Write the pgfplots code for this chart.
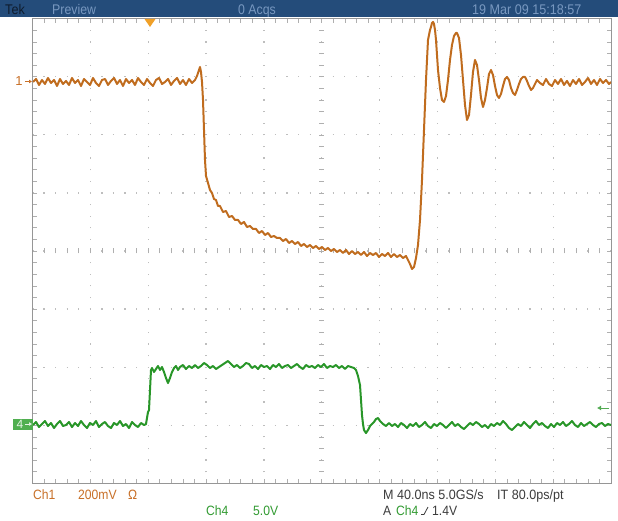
\documentclass[border=0pt]{standalone}
\usepackage{pgfplots}
\pgfplotsset{compat=1.18}
\usepackage{pgfplotstable}
\usetikzlibrary{arrows.meta}
\usepackage{fontspec}
\setmainfont{Liberation Sans}
\definecolor{hdr}{RGB}{36,76,122}
\definecolor{hdrtxt}{RGB}{120,152,192}
\definecolor{hdrdark}{RGB}{15,28,45}
\definecolor{chone}{RGB}{192,108,30}
\definecolor{chonetxt}{RGB}{200,112,40}
\definecolor{chfour}{RGB}{40,150,40}
\definecolor{chfourtxt}{RGB}{50,155,50}
\definecolor{chfourbox}{RGB}{80,175,80}
\definecolor{gridc}{RGB}{190,190,190}
\definecolor{tickc}{RGB}{175,175,175}
\definecolor{borderc}{RGB}{150,150,150}
\definecolor{trig}{RGB}{240,160,40}
\definecolor{txtdark}{RGB}{60,60,60}

% screen samples: px = column on screen, py = row on screen
\pgfplotstableread{
px py
33 82
36 79
39 85
42 80
45 84
48 78
51 83
54 80
57 86
60 79
63 84
66 81
69 85
72 78
75 83
78 80
81 86
84 79
87 82
90 85
93 78
96 83
99 86
102 80
105 79
108 85
111 81
114 78
117 84
120 80
123 86
126 79
129 83
132 80
135 85
138 78
141 82
144 85
147 79
150 83
153 86
156 80
159 78
162 84
165 82
168 79
171 85
174 81
177 78
180 84
183 80
186 85
189 79
192 83
195 80
197 76
199 70
200 67
201 72
202 82
203 100
204 130
205 160
206 176
208 183
210 190
212 193
214 199
216 200
218 206
220 206
223 212
226 211
229 217
232 216
235 220
238 220
241 224
244 222
247 227
250 226
253 229
256 229
259 233
262 231
265 235
268 233
271 237
274 236
277 238
280 238
283 241
286 239
289 243
292 241
295 244
298 242
301 246
304 244
307 247
310 245
313 248
316 246
319 249
322 247
325 250
328 248
331 251
334 249
337 252
340 250
343 253
346 250
349 254
352 251
355 254
358 252
361 255
364 252
367 256
370 253
373 255
376 253
379 257
382 254
385 256
388 253
391 257
394 254
397 257
400 255
403 258
406 256
408 260
410 264
412 269
414 267
416 258
418 245
420 220
422 180
424 130
426 80
428 40
430 30
431 27
432 23
433 22
434 24
435 30
436 40
437 55
438 70
440 88
442 100
444 102
446 96
448 80
450 60
452 45
454 36
456 33
457 33
459 38
461 55
463 80
465 105
467 120
469 115
471 95
473 72
475 60
477 65
479 80
481 98
483 107
485 100
487 88
489 74
491 70
493 75
495 86
497 95
499 98
501 94
503 86
505 79
507 77
509 80
511 88
513 93
515 95
517 90
519 84
521 79
523 77
525 77
527 81
529 86
531 90
533 88
535 84
537 80
540 83
543 85
546 79
549 84
552 86
555 80
558 84
561 79
564 85
567 81
570 86
573 80
576 84
579 79
582 85
585 82
588 78
591 84
594 80
597 85
600 79
603 83
606 80
609 84
611 82
}\chonedata

\pgfplotstableread{
px py
33 425
36 422
39 427
42 424
45 421
48 426
51 423
54 428
57 424
60 421
63 426
66 425
69 422
72 427
75 423
78 426
81 421
84 425
87 428
90 423
93 425
96 421
99 427
102 424
105 422
108 426
111 428
114 423
117 425
120 421
123 426
126 424
129 428
132 422
135 425
138 427
141 423
144 425
146 424
147 418
148 412
149 410
150 390
151 370
152 368
154 372
156 369
158 366
160 370
162 367
164 372
166 378
168 383
170 378
172 372
174 368
176 366
178 370
180 367
183 365
186 369
189 366
192 368
195 365
198 368
201 366
204 363
207 365
210 368
213 366
216 369
219 367
222 365
225 363
228 361
231 364
234 367
237 365
240 368
243 366
246 363
249 364
252 368
255 366
258 369
261 365
264 367
267 366
270 369
273 365
276 367
279 364
282 368
285 366
288 365
291 368
294 366
297 364
300 367
303 369
306 365
309 367
312 366
315 368
318 365
321 367
324 364
327 368
330 366
333 367
336 365
339 368
342 366
345 369
348 366
351 367
354 368
356 370
358 376
360 385
361 400
362 415
363 424
364 430
366 433
368 430
370 426
372 424
374 422
376 419
378 418
380 421
383 424
386 426
389 423
392 426
395 424
398 427
401 423
404 425
407 428
410 424
413 426
416 423
419 427
422 425
425 422
428 426
431 428
434 424
437 426
440 423
443 425
446 428
449 425
452 422
455 426
458 424
461 427
464 429
467 426
470 423
473 425
476 422
479 424
482 427
485 425
488 428
491 424
494 426
497 423
500 425
503 421
506 424
509 428
512 430
515 427
518 424
521 426
524 422
527 425
530 428
533 424
536 421
539 425
542 423
545 426
548 428
551 424
554 427
557 423
560 425
563 422
566 426
569 424
572 421
575 425
578 427
581 423
584 426
587 424
590 422
593 425
596 427
599 424
602 423
605 426
608 424
611 425
}\chfourdata

\begin{document}
\begin{tikzpicture}[x=1pt,y=1pt]
% page
\fill[white] (0,0) rectangle (618,520);
% header bar
\fill[hdr] (0,502.5) rectangle (618,520);
\node[anchor=base west, inner sep=0, text=hdrdark, font=\fontsize{14}{14}\selectfont] at (5,505.5) {\scalebox{0.9}[1]{Tek}};
\node[anchor=base west, inner sep=0, text=hdrtxt, font=\fontsize{14}{14}\selectfont] at (52,505.5) {\scalebox{0.88}[1]{Preview}};
\node[anchor=base west, inner sep=0, text=hdrtxt, font=\fontsize{14}{14}\selectfont] at (238,505.5) {\scalebox{0.88}[1]{0 Acqs}};
\node[anchor=base west, inner sep=0, text=hdrtxt, font=\fontsize{14}{14}\selectfont] at (472,505.5) {\scalebox{0.9}[1]{19 Mar 09 15:18:57}};

% graticule dots
\foreach \i in {1,...,9} {
  \draw[gridc, line width=1.2pt, dash pattern=on 1.2pt off 10.415pt, dash phase=0.6pt] ({32.5+57.85*\i},36.7) -- ({32.5+57.85*\i},501.3);
}
\foreach \k in {1,...,7} {
  \draw[gridc, line width=1.2pt, dash pattern=on 1.2pt off 10.37pt, dash phase=0.6pt] (32.5,{36.7+58.075*\k}) -- (611,{36.7+58.075*\k});
}
% center-line ticks
\foreach \j in {1,...,39} {
  \draw[tickc, line width=0.6pt] (319.25,{36.7+11.615*\j}) -- (324.25,{36.7+11.615*\j});
}
\foreach \j in {1,...,49} {
  \draw[tickc, line width=0.6pt] ({32.5+11.57*\j},266.5) -- ({32.5+11.57*\j},271.5);
  \draw[tickc, line width=0.6pt] ({32.5+11.57*\j},501.3) -- ++(0,-4);
  \draw[tickc, line width=0.6pt] ({32.5+11.57*\j},36.7) -- ++(0,4);
}
\foreach \j in {1,...,39} {
  \draw[tickc, line width=0.6pt] (32.5,{36.7+11.615*\j}) -- ++(4,0);
  \draw[tickc, line width=0.6pt] (611,{36.7+11.615*\j}) -- ++(-4,0);
}
\draw[borderc, line width=1pt] (32.5,36.7) rectangle (611,501.3);

\begin{axis}[
  at={(32.5pt,36.7pt)}, anchor=south west,
  scale only axis, width=578.5pt, height=464.6pt,
  xmin=-200, xmax=200, ymin=-4, ymax=4,
  axis line style={draw=none}, ticks=none,
]
\addplot[chone, line width=2pt, line join=round] table[x expr=(\thisrow{px}-321.75)*40/57.85, y expr=(251-\thisrow{py})/58.07] {\chonedata};
\addplot[chfour, line width=2pt, line join=round] table[x expr=(\thisrow{px}-321.75)*40/57.85, y expr=(251-\thisrow{py})/58.07] {\chfourdata};
\end{axis}

% channel markers
\node[anchor=base, inner sep=0, text=chonetxt, font=\fontsize{13}{13}\selectfont] at (19,434) {1};
\draw[chonetxt, line width=1pt, -{Latex[length=3pt,width=4pt]}] (25,438.5) -- (32,438.5);
\fill[chfourbox] (12.5,90) rectangle (33,101.5);
\node[anchor=base, inner sep=0, text=white!85!chfourbox, font=\fontsize{12}{12}\selectfont] at (20,91.5) {4};
\draw[white!85!chfourbox, line width=1pt, -{Latex[length=3pt,width=4pt]}] (25,96) -- (32,96);
% trigger position
\fill[trig] (144.5,501) -- (155.5,501) -- (150,493) -- cycle;
% trigger level
\draw[chfour!80!white, line width=1pt, -{Latex[length=4pt,width=5pt]}] (609,112) -- (597,112);

% readouts
\node[anchor=base west, inner sep=0, text=chonetxt, font=\fontsize{13.5}{13.5}\selectfont] at (33,21) {\scalebox{0.9}[1]{Ch1}};
\node[anchor=base west, inner sep=0, text=chonetxt, font=\fontsize{13.5}{13.5}\selectfont] at (78,21) {\scalebox{0.9}[1]{200mV}};
\node[anchor=base west, inner sep=0, text=chonetxt, font=\fontsize{13.5}{13.5}\selectfont] at (128,21) {\scalebox{0.9}[1]{Ω}};
\node[anchor=base west, inner sep=0, text=chfourtxt, font=\fontsize{13.5}{13.5}\selectfont] at (206,5) {\scalebox{0.9}[1]{Ch4}};
\node[anchor=base west, inner sep=0, text=chfourtxt, font=\fontsize{13.5}{13.5}\selectfont] at (253,5) {\scalebox{0.9}[1]{5.0V}};
\node[anchor=base west, inner sep=0, text=txtdark, font=\fontsize{13.5}{13.5}\selectfont] at (383,21) {\scalebox{0.93}[1]{M 40.0ns 5.0GS/s}};
\node[anchor=base west, inner sep=0, text=txtdark, font=\fontsize{13.5}{13.5}\selectfont] at (497,21) {\scalebox{0.93}[1]{IT 80.0ps/pt}};
\node[anchor=base west, inner sep=0, text=txtdark, font=\fontsize{13.5}{13.5}\selectfont] at (383,5) {\scalebox{0.9}[1]{A}};
\node[anchor=base west, inner sep=0, text=chfourtxt, font=\fontsize{13.5}{13.5}\selectfont] at (396,5) {\scalebox{0.9}[1]{Ch4}};
\draw[txtdark, line width=0.8pt] (421,5.5) -- (424,5.5) -- (428,13);
\node[anchor=base west, inner sep=0, text=txtdark, font=\fontsize{13.5}{13.5}\selectfont] at (432,5) {\scalebox{0.9}[1]{1.4V}};
\end{tikzpicture}
\end{document}
